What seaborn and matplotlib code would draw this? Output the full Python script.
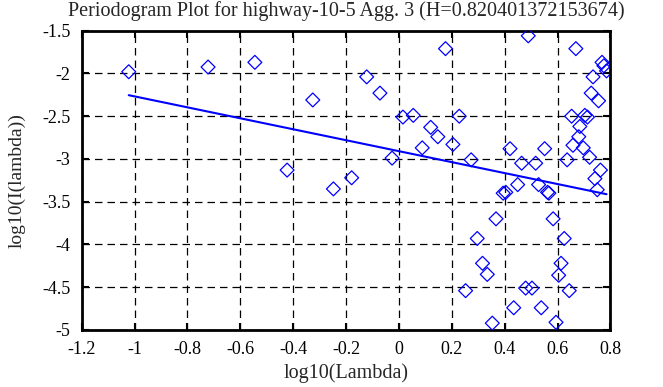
import numpy as np
import pandas as pd
import matplotlib
matplotlib.use('Agg')
import matplotlib.pyplot as plt
import seaborn as sns

# valores
log_lambda = [-1.022, -0.722, -0.545, -0.423, -0.326, -0.248, -0.179, -0.122, -0.072,
              -0.026, 0.015, 0.054, 0.088, 0.120, 0.147, 0.176, 0.204, 0.228, 0.252,
              0.273, 0.296, 0.316, 0.334, 0.353, 0.367, 0.394, 0.404, 0.420, 0.434,
              0.449, 0.464, 0.479, 0.489, 0.503, 0.517, 0.528, 0.538, 0.551, 0.562,
              0.567, 0.583, 0.594, 0.604, 0.613, 0.625, 0.636, 0.644, 0.653, 0.658,
              0.669, 0.680, 0.684, 0.697, 0.703, 0.713, 0.721, 0.727, 0.734, 0.741,
              0.750, 0.755, 0.762, 0.768, 0.775, 0.785]
log_I = [-1.98, -1.925, -1.87, -3.13, -2.31, -3.35, -3.22, -2.04, -2.23,
         -2.99, -2.51, -2.49, -2.87, -2.63, -2.74, -1.71, -2.83, -2.50, -4.54,
         -3.01, -3.93, -4.22, -4.35, -4.92, -3.70, -3.40, -3.39, -2.88, -4.74,
         -3.30, -3.05, -4.51, -1.56, -4.51, -3.05, -3.30, -4.74, -2.88, -3.39,
         -3.40, -3.70, -4.91, -4.36, -4.22, -3.93, -3.01, -4.54, -2.50, -2.84,
         -1.71, -2.74, -2.62, -2.87, -2.49, -2.51, -2.98, -2.23, -2.04, -3.23,
         -3.36, -2.32, -3.13, -1.87, -1.91, -1.97]

H = 0.820401372153674
slope = 1 - 2 * H
intercept = -2.909

df = pd.DataFrame({'x': log_lambda, 'y': log_I})
fit = pd.DataFrame({'x': [min(log_lambda), max(log_lambda)]})
fit['y'] = intercept + slope * fit['x']

sns.set_style('ticks')
plt.rcParams['font.family'] = ['Liberation Serif', 'DejaVu Serif']

fig = plt.figure(figsize=(6.63, 3.87), dpi=100)
ax = fig.add_axes([0.1232, 0.1473, 0.7976, 0.7734])

sns.scatterplot(data=df, x='x', y='y', marker='D', s=50, facecolor='none',
                edgecolor='#0000ff', linewidth=0.9, ax=ax, zorder=3)
sns.lineplot(data=fit, x='x', y='y', color='#0000ff', linewidth=1.5, ax=ax, zorder=4)

ax.set_xlim(-1.2, 0.8)
ax.set_ylim(-5, -1.5)
ax.set_xticks(np.arange(-1.2, 0.81, 0.2))
ax.set_yticks(np.arange(-5, -1.49, 0.5))
ax.set_xticklabels(['-1.2', '-1', '-0.8', '-0.6', '-0.4', '-0.2', '0', '0.2', '0.4', '0.6', '0.8'])
ax.set_yticklabels(['-5', '-4.5', '-4', '-3.5', '-3', '-2.5', '-2', '-1.5'])
ax.grid(True, color='black', linestyle=(0, (6, 4)), linewidth=0.9)
ax.tick_params(direction='in', length=5, width=1.5, top=True, right=True,
               labelsize=13, colors='black', pad=8)
for sp in ax.spines.values():
    sp.set_linewidth(2)
    sp.set_color('black')

ax.set_title('Periodogram Plot for highway-10-5 Agg. 3 (H=0.820401372153674)',
             fontsize=14.5, pad=10.5)
ax.set_xlabel('log10(Lambda)', fontsize=14.5)
ax.set_ylabel('log10(I(lambda))', fontsize=14)
ax.xaxis.set_label_coords(0.5, -0.11)
ax.yaxis.set_label_coords(-0.106, 0.5)

plt.savefig('out.png', dpi=100)
plt.close()
